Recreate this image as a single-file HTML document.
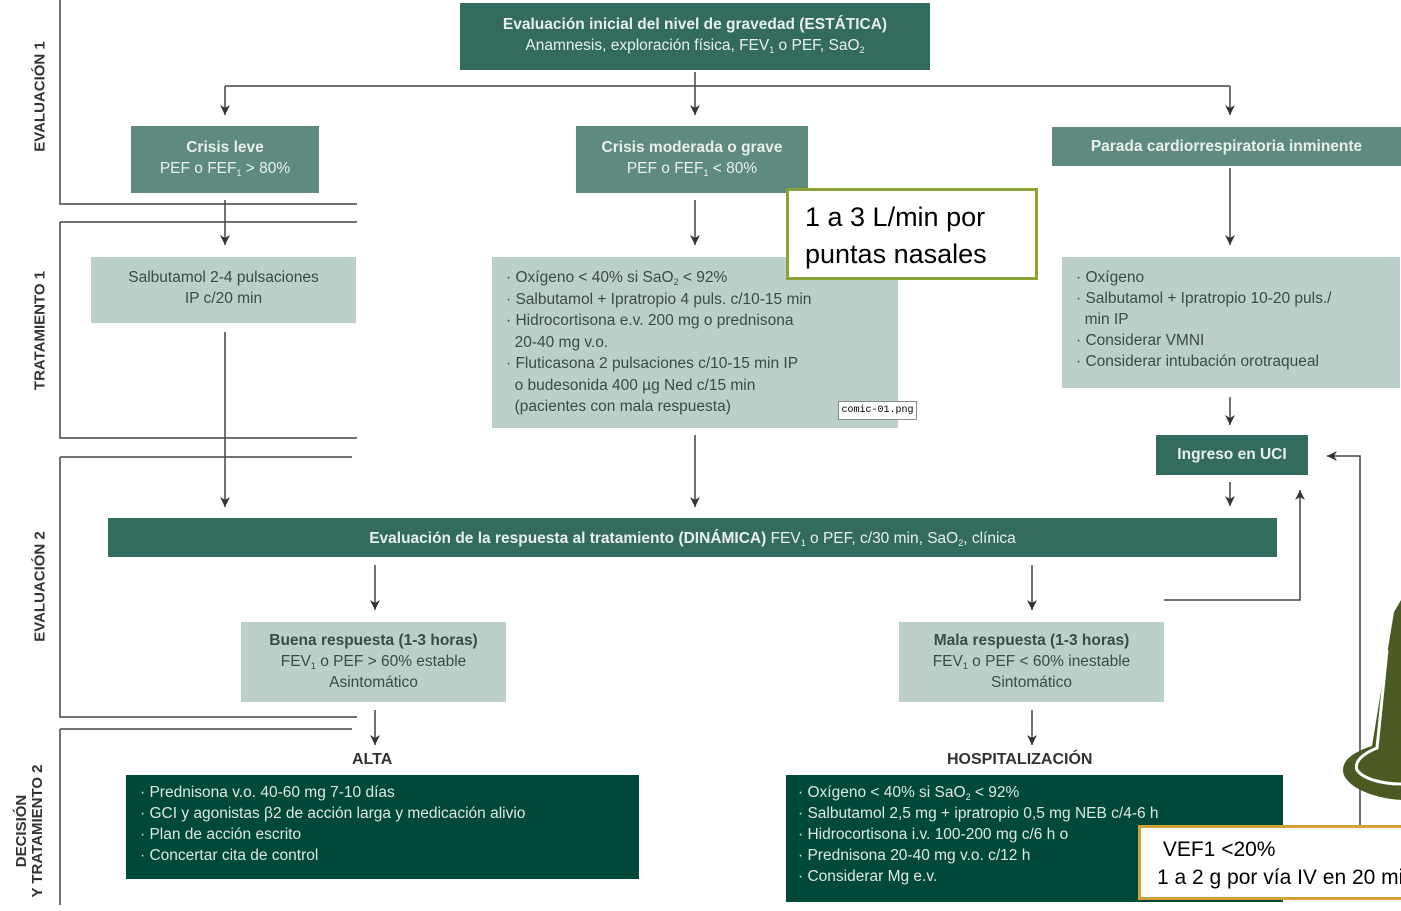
<!DOCTYPE html>
<html><head><meta charset="utf-8"><style>
body{margin:0;width:1401px;height:905px;position:relative;background:#fff;overflow:hidden;font-family:"Liberation Sans",sans-serif}
.b{position:absolute;box-sizing:border-box;text-align:center;font-size:15.5px;line-height:21px;color:#e8f0ed}
sub{font-size:9px;line-height:0;vertical-align:-3px}
.d1{background:#336b5e}.d2{background:#5e8a7f}.l{background:#bdcfca;color:#3d4a46}.dk{background:#004838;color:#dde8e4;text-align:left}
b{font-weight:bold}
.side{position:absolute;font-weight:bold;font-size:15px;color:#333;transform:rotate(-90deg);transform-origin:center;white-space:nowrap;text-align:center;line-height:17px}
.hl{position:absolute;font-weight:bold;font-size:16px;color:#333}
</style></head><body>
<svg width="1401" height="905" style="position:absolute;left:0;top:0">
<defs>
<marker id="ar" viewBox="0 0 10 10" refX="10" refY="5" markerWidth="10" markerHeight="10" orient="auto" markerUnits="userSpaceOnUse"><path d="M0,0 L10,5 L0,10 L3,5z" fill="#333"/></marker></defs>
<g stroke="#444" stroke-width="1.5" fill="none">
<path d="M60 0V204H357M60 222H357M60 222V438H357M60 457H352M60 457V717H357M60 729H352M60 729V905"/>
<path d="M225 86H1230"/>
<g marker-end="url(#ar)">
<path d="M695 72V115"/><path d="M225 86V115"/><path d="M1230 86V115"/>
<path d="M225 200V245"/><path d="M695 200V245"/><path d="M1230 168V245"/>
<path d="M225 332V507"/><path d="M695 435V507"/>
<path d="M1230 397V425"/><path d="M1230 482V506"/>
<path d="M375 565V610"/><path d="M1032 565V610"/>
<path d="M375 710V745"/><path d="M1032 710V745"/>
<path d="M1164 600H1300V490"/>
<path d="M1360 850V456H1327"/>
</g></g>
<path d="M1394 612 L1401 600 V800 C1370 798 1343 785 1343 770 C1343 757 1360 750 1372 746 Z" fill="#4a5a22"/>
<path d="M1387 650 L1377 748 C1362 754 1354 762 1357 770 C1364 780 1385 784 1401 784" stroke="#fff" stroke-width="3" fill="none"/>
</svg>
<div class="side" style="left:-25px;top:88px;width:130px">EVALUACIÓN 1</div>
<div class="side" style="left:-35px;top:322px;width:150px">TRATAMIENTO 1</div>
<div class="side" style="left:-25px;top:578px;width:130px">EVALUACIÓN 2</div>
<div class="side" style="left:-50px;top:815px;width:160px;line-height:16px">DECISIÓN<br>Y TRATAMIENTO 2</div>
<div class="b d1" style="left:460px;top:3px;width:470px;height:67px;padding-top:11px"><b>Evaluación inicial del nivel de gravedad (ESTÁTICA)</b><br>Anamnesis, exploración física, FEV<sub>1</sub> o PEF, SaO<sub>2</sub></div>
<div class="b d2" style="left:131px;top:126px;width:188px;height:67px;padding-top:11px"><b>Crisis leve</b><br>PEF o FEF<sub>1</sub> &gt; 80%</div>
<div class="b d2" style="left:576px;top:126px;width:232px;height:67px;padding-top:11px"><b>Crisis moderada o grave</b><br>PEF o FEF<sub>1</sub> &lt; 80%</div>
<div class="b d2" style="left:1052px;top:127px;width:349px;height:39px;padding-top:9px"><b>Parada cardiorrespiratoria inminente</b></div>
<div class="b l" style="left:91px;top:257px;width:265px;height:66px;padding-top:10px">Salbutamol 2-4 pulsaciones<br>IP c/20 min</div>
<div class="b l" style="left:492px;top:257px;width:406px;height:171px;padding:10px 0 0 14px;text-align:left;line-height:21.5px">· Oxígeno &lt; 40% si SaO<sub>2</sub> &lt; 92%<br>· Salbutamol + Ipratropio 4 puls. c/10-15 min<br>· Hidrocortisona e.v. 200 mg o prednisona<br>&nbsp;&nbsp;20-40 mg v.o.<br>· Fluticasona 2 pulsaciones c/10-15 min IP<br>&nbsp;&nbsp;o budesonida 400 µg Ned c/15 min<br>&nbsp;&nbsp;(pacientes con mala respuesta)</div>
<div style="position:absolute;left:838px;top:401px;width:79px;height:19px;border:1px solid #888;background:#fff;font:10px 'Liberation Mono',monospace;line-height:17px;text-align:center;box-sizing:border-box;white-space:nowrap;overflow:hidden">comic-01.png</div>
<div class="b l" style="left:1062px;top:257px;width:338px;height:131px;padding:10px 0 0 14px;text-align:left">· Oxígeno<br>· Salbutamol + Ipratropio 10-20 puls./<br>&nbsp;&nbsp;min IP<br>· Considerar VMNI<br>· Considerar intubación orotraqueal</div>
<div style="position:absolute;left:786px;top:188px;width:252px;height:92px;border:3px solid #8ba43a;background:#fff;box-sizing:border-box;font-size:27px;line-height:37px;padding:8px 0 0 16px;color:#000">1 a 3 L/min por<br>puntas nasales</div>
<div class="b d1" style="left:1156px;top:435px;width:152px;height:40px;padding-top:9px"><b>Ingreso en UCI</b></div>
<div class="b d1" style="left:108px;top:518px;width:1169px;height:39px;padding-top:10px"><b>Evaluación de la respuesta al tratamiento (DINÁMICA)</b> FEV<sub>1</sub> o PEF, c/30 min, SaO<sub>2</sub>, clínica</div>
<div class="b l" style="left:241px;top:622px;width:265px;height:80px;padding-top:8px"><b>Buena respuesta (1-3 horas)</b><br>FEV<sub>1</sub> o PEF &gt; 60% estable<br>Asintomático</div>
<div class="b l" style="left:899px;top:622px;width:265px;height:80px;padding-top:8px"><b>Mala respuesta (1-3 horas)</b><br>FEV<sub>1</sub> o PEF &lt; 60% inestable<br>Sintomático</div>
<div class="hl" style="left:352px;top:751px">ALTA</div>
<div class="hl" style="left:947px;top:751px">HOSPITALIZACIÓN</div>
<div class="b dk" style="left:126px;top:775px;width:513px;height:104px;padding:7px 0 0 14px">· Prednisona v.o. 40-60 mg 7-10 días<br>· GCI y agonistas β2 de acción larga y medicación alivio<br>· Plan de acción escrito<br>· Concertar cita de control</div>
<div class="b dk" style="left:786px;top:775px;width:497px;height:127px;padding:7px 0 0 12px">· Oxígeno &lt; 40% si SaO<sub>2</sub> &lt; 92%<br>· Salbutamol 2,5 mg + ipratropio 0,5 mg NEB c/4-6 h<br>· Hidrocortisona i.v. 100-200 mg c/6 h o<br>· Prednisona 20-40 mg v.o. c/12 h<br>· Considerar Mg e.v.</div>
<div style="position:absolute;left:1138px;top:825px;width:280px;height:75px;border:3px solid #d4a038;background:#fff;box-sizing:border-box;font-size:21px;line-height:28px;padding:8px 0 0 16px;color:#000;white-space:nowrap">&nbsp;VEF1 &lt;20%<br>1 a 2 g por vía IV en 20 min</div>
</body></html>
